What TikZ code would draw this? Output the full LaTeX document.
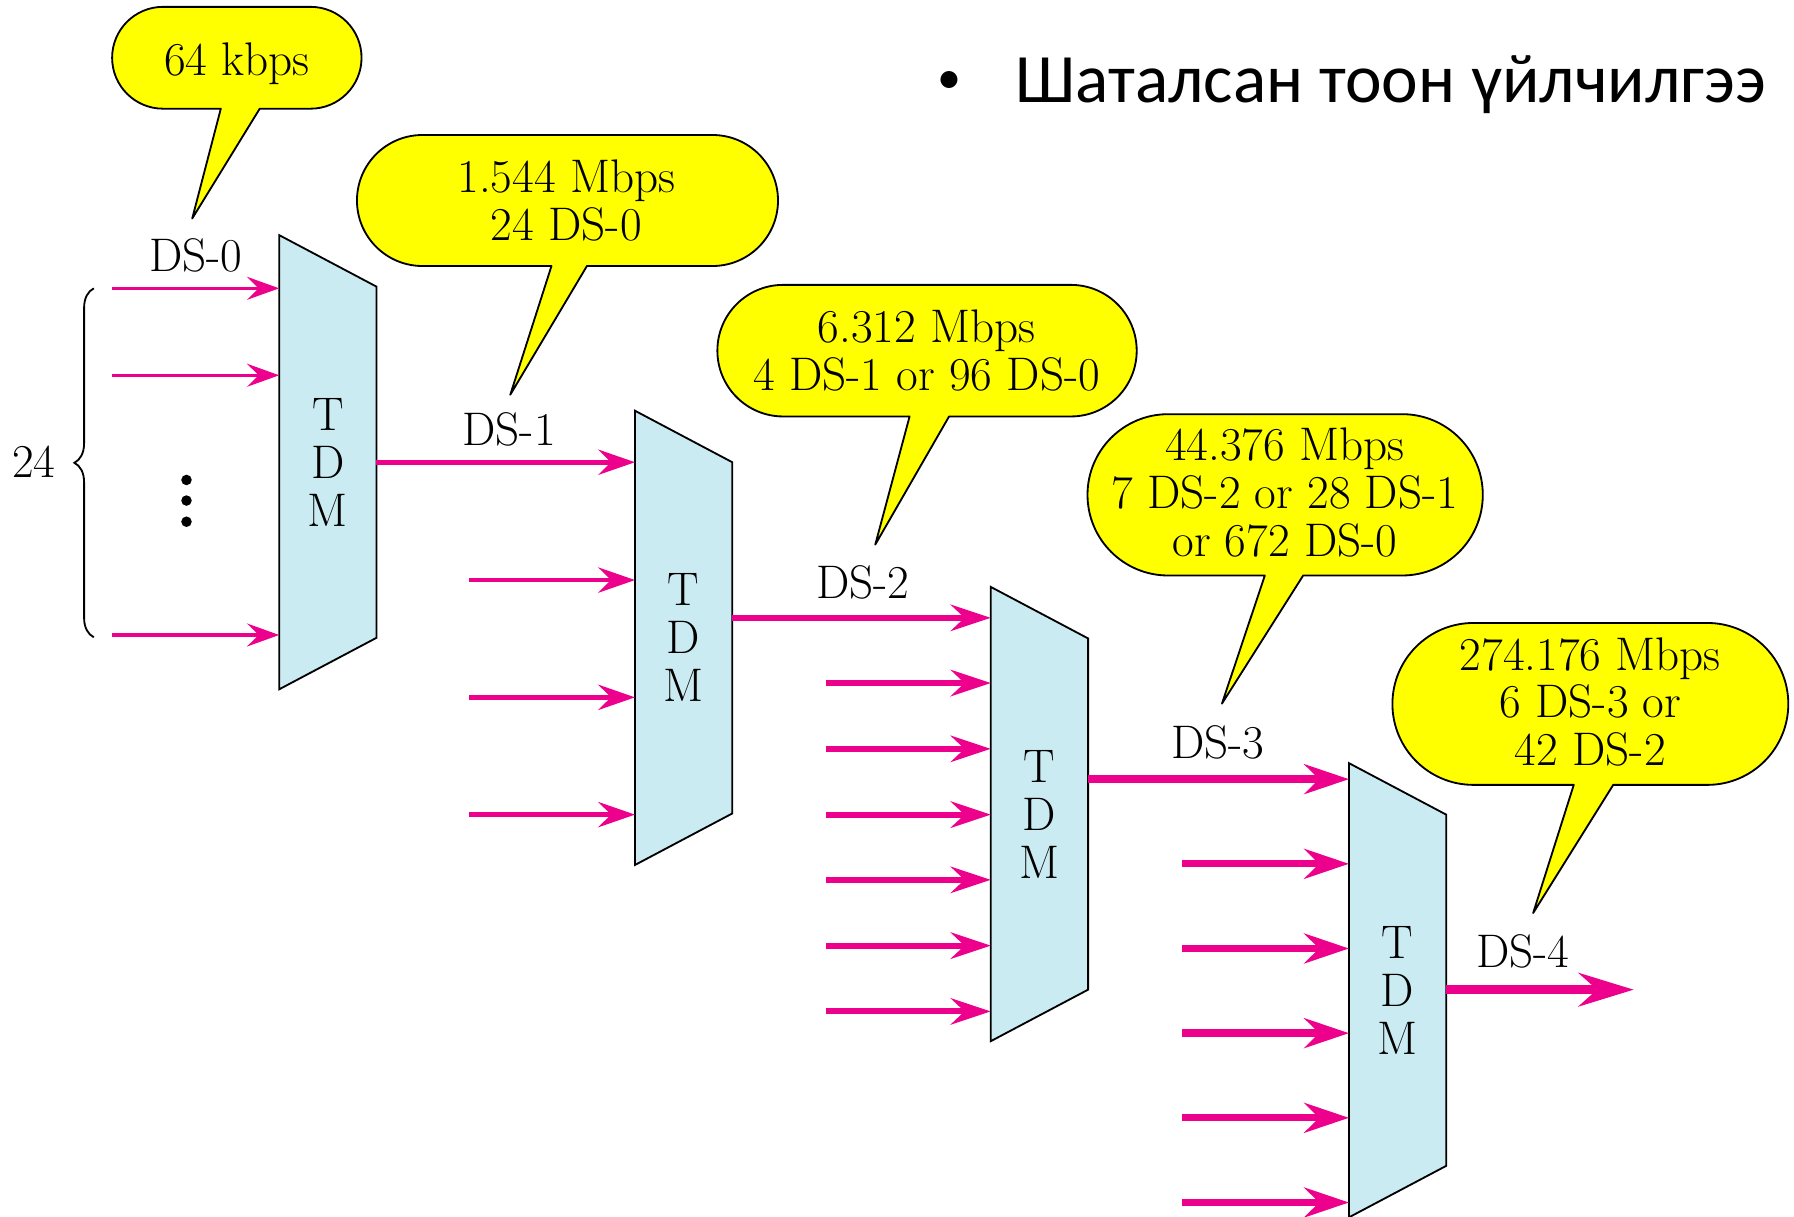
\documentclass[tikz,border=0pt]{standalone}
\usepackage{fontspec}
\newfontfamily\titlefont{Carlito}
\usetikzlibrary{arrows.meta,decorations.pathreplacing}
\definecolor{mag}{RGB}{236,0,140}
\definecolor{tdmblue}{RGB}{203,235,242}
\definecolor{bubyellow}{RGB}{255,255,0}
\begin{document}
\begin{tikzpicture}[x=0.5pt,y=0.5pt,
  lbl/.style={font=\fontsize{20.6pt}{21pt}\selectfont, inner sep=0pt},
  bub/.style={fill=bubyellow, draw=black, line width=0.8pt, line join=round},
  tdm/.style={fill=tdmblue, draw=black, line width=0.8pt, line join=miter},
  sigA/.style={draw=mag, line width=1.4pt, -{Stealth[length=14pt,width=10pt,inset=5pt]}},
  sigB/.style={draw=mag, line width=2.1pt, -{Stealth[length=16pt,width=11pt,inset=5.5pt]}},
  sigC/.style={draw=mag, line width=2.6pt, -{Stealth[length=17.5pt,width=11.5pt,inset=6pt]}},
  sigD/.style={draw=mag, line width=3.2pt, -{Stealth[length=19.5pt,width=13pt,inset=6.5pt]}},
  sigE/.style={draw=mag, line width=4.2pt, -{Stealth[length=24pt,width=14.5pt,inset=8pt]}},
  ttl/.style={font=\titlefont\fontsize{30.3pt}{36pt}\selectfont, inner sep=0pt}
]
\useasboundingbox (0,0) rectangle (1568,-1063);

% title
\node[font=\titlefont\fontsize{21pt}{24pt}\selectfont, inner sep=0pt, anchor=base] (bullet) at (830,-82) {•};
\node[ttl, anchor=base west] (title) at (887,-90) {Шаталсан тоон үйлчилгээ};

% speech bubbles
\filldraw[bub] (193,-95) -- (168,-191) -- (227,-95) -- (271.5,-95) arc[start angle=-90,end angle=90,radius=44.5] -- (142.5,-6) arc[start angle=90,end angle=270,radius=44.5] -- cycle;
\node[lbl, anchor=base] (b1a) at (207,-65.6) {64 kbps};

\filldraw[bub] (482,-232.5) -- (446,-345) -- (513,-232.5) -- (622.75,-232.5) arc[start angle=-90,end angle=90,radius=57.25] -- (369.25,-118) arc[start angle=90,end angle=270,radius=57.25] -- cycle;
\node[lbl, anchor=base] (b2a) at (495,-168) {1.544 Mbps};
\node[lbl, anchor=base] (b2b) at (495,-210) {24 DS-0};

\filldraw[bub] (795,-364) -- (765,-476) -- (829.5,-364) -- (936,-364) arc[start angle=-90,end angle=90,radius=57.5] -- (684.5,-249) arc[start angle=90,end angle=270,radius=57.5] -- cycle;
\node[lbl, anchor=base] (b3a) at (810,-299.5) {6.312 Mbps};
\node[lbl, anchor=base] (b3b) at (810,-341.5) {4 DS-1 or 96 DS-0};

\filldraw[bub] (1105.5,-503) -- (1068,-615) -- (1139,-503) -- (1225.5,-503) arc[start angle=-90,end angle=90,radius=70.5] -- (1021,-362) arc[start angle=90,end angle=270,radius=70.5] -- cycle;
\node[lbl, anchor=base] (b4a) at (1123,-402.5) {44.376 Mbps};
\node[lbl, anchor=base] (b4b) at (1123,-444.5) {7 DS-2 or 28 DS-1};
\node[lbl, anchor=base] (b4c) at (1123,-486.5) {or 672 DS-0};

\filldraw[bub] (1375.5,-686) -- (1340,-798) -- (1410,-686) -- (1492.25,-686) arc[start angle=-90,end angle=90,radius=70.75] -- (1287.75,-544.5) arc[start angle=90,end angle=270,radius=70.75] -- cycle;
\node[lbl, anchor=base] (b5a) at (1390,-586) {274.176 Mbps};
\node[lbl, anchor=base] (b5b) at (1390,-627.5) {6 DS-3 or};
\node[lbl, anchor=base] (b5c) at (1390,-669.5) {42 DS-2};

% TDM blocks
\foreach \n/\L/\T in {1/244/205.5, 2/555/359, 3/866/513, 4/1179/667} {
  \filldraw[tdm] (\L,-\T) -- ({\L+85},{-\T-45}) -- ({\L+85},{-\T-352}) -- (\L,{-\T-397}) -- cycle;
  \node[lbl, align=center] (tdm\n) at ({\L+42.5},{-\T-198.5}) {T\\D\\M};
}

% stage 1 inputs (DS-0)
\foreach \i/\y in {1/252,2/328,3/555} {
  \coordinate (s1-\i) at (98,-\y);
  \coordinate (e1-\i) at (244,-\y);
  \draw[sigA] (s1-\i) -- (e1-\i);
}
\foreach \y [count=\k] in {419.5,437.5,456} {
  \fill (163,-\y) circle[radius=4.6];
}
\coordinate (brb) at (82,-557);
\coordinate (brt) at (82,-252);
\draw[line width=0.8pt, decorate, decoration={brace, amplitude=8.5pt}] (brb) -- (brt);
\node[lbl] (n24) at (29.5,-404) {24};
\node[lbl, anchor=base] (ds0) at (171,-237.5) {DS-0};

% stage 2 (DS-1)
\coordinate (o1) at (329,-404);
\coordinate (e2-1) at (555,-404);
\draw[sigB] (o1) -- (e2-1);
\foreach \i/\y in {2/507,3/609.5,4/712} {
  \coordinate (s2-\i) at (410,-\y);
  \coordinate (e2-\i) at (555,-\y);
  \draw[sigB] (s2-\i) -- (e2-\i);
}
\node[lbl, anchor=base] (ds1) at (445,-389) {DS-1};

% stage 3 (DS-2)
\coordinate (o2) at (640,-540);
\coordinate (e3-1) at (866,-540);
\draw[sigC] (o2) -- (e3-1);
\foreach \i/\y in {2/597,3/654.5,4/712,5/769,6/826.5,7/884} {
  \coordinate (s3-\i) at (722,-\y);
  \coordinate (e3-\i) at (866,-\y);
  \draw[sigC] (s3-\i) -- (e3-\i);
}
\node[lbl, anchor=base] (ds2) at (754,-523) {DS-2};

% stage 4 (DS-3)
\coordinate (o3) at (951,-681);
\coordinate (e4-1) at (1179,-681);
\draw[sigD] (o3) -- (e4-1);
\foreach \i/\y in {2/755,3/829,4/903,5/977,6/1051} {
  \coordinate (s4-\i) at (1033,-\y);
  \coordinate (e4-\i) at (1179,-\y);
  \draw[sigD] (s4-\i) -- (e4-\i);
}
\node[lbl, anchor=base] (ds3) at (1064.5,-663) {DS-3};

% output (DS-4)
\coordinate (o4) at (1264,-865);
\coordinate (fin) at (1428,-865);
\draw[sigE] (o4) -- (fin);
\node[lbl, anchor=base] (ds4) at (1331,-845.5) {DS-4};
\end{tikzpicture}
\end{document}
